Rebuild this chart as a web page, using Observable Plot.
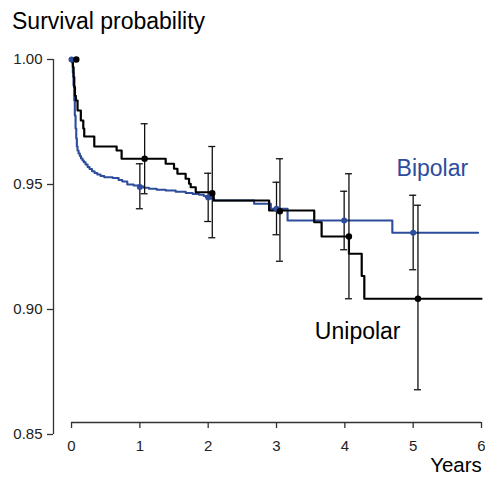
<!DOCTYPE html>
<html><head><meta charset="utf-8">
<script src="https://cdn.jsdelivr.net/npm/d3@7"></script>
<script src="https://cdn.jsdelivr.net/npm/@observablehq/plot@0.6"></script>
<style>
body{margin:0;background:#fff;}
#wrap{width:485px;height:478px;position:relative;font-family:"Liberation Sans",Arial,Helvetica,sans-serif;overflow:hidden;}
#title{position:absolute;left:12px;top:10px;font-size:23px;line-height:23px;color:#000;white-space:nowrap;}
#chart{position:absolute;left:0;top:40px;}
</style></head><body>
<div id="wrap"><div id="title">Survival probability</div><div id="chart"></div></div>
<script>
// Unipolar (black) Kaplan–Meier steps: time of drop (years), survival after drop
const uniTime = [0, 0.02, 0.03, 0.04, 0.05, 0.063, 0.088, 0.136, 0.172, 0.186, 0.333, 0.66, 0.733, 1.378, 1.50, 1.55, 1.67, 1.72, 1.744, 1.818, 2.08, 2.892, 3.552, 3.66, 4.06, 4.247, 4.285, 6.0];
const uniSurv = [1.0, 0.997, 0.993, 0.989, 0.9855, 0.9836, 0.9796, 0.9756, 0.9724, 0.9692, 0.9652, 0.9636, 0.9603, 0.9583, 0.9563, 0.9543, 0.9523, 0.9503, 0.9489, 0.9469, 0.9436, 0.9396, 0.9349, 0.9292, 0.9223, 0.9134, 0.9043, 0.9043];
// Bipolar (blue)
const biTime = [0, 0.007, 0.019, 0.029, 0.040, 0.048, 0.059, 0.069, 0.078, 0.088, 0.103, 0.122, 0.139, 0.161, 0.180, 0.205, 0.235, 0.264, 0.300, 0.337, 0.377, 0.425, 0.479, 0.601, 0.689, 0.743, 0.816, 0.909, 0.987, 1.055, 1.133, 1.246, 1.378, 1.524, 1.671, 1.774, 1.866, 1.935, 1.964, 2.038, 2.086, 2.672, 2.917, 3.162, 4.695, 5.95];
const biSurv = [1.0, 0.9988, 0.9948, 0.9896, 0.9836, 0.9776, 0.9724, 0.9684, 0.9652, 0.9636, 0.9624, 0.9614, 0.9604, 0.9596, 0.9589, 0.958, 0.957, 0.9562, 0.9553, 0.9546, 0.954, 0.9534, 0.9529, 0.9526, 0.9518, 0.9512, 0.95, 0.9496, 0.9492, 0.9487, 0.9483, 0.9479, 0.9476, 0.9471, 0.9466, 0.9462, 0.9459, 0.9454, 0.945, 0.9444, 0.9436, 0.9423, 0.9403, 0.9356, 0.9307, 0.9307];
// Yearly estimates with confidence intervals
const uniYearT = [0.07, 1.07, 2.06, 3.05, 4.06, 5.07];
const uniYearS = [1.0, 0.9603, 0.9465, 0.9393, 0.9292, 0.9043];
const uniLo = [null, 0.9463, 0.9287, 0.9193, 0.9043, 0.8679];
const uniHi = [null, 0.9743, 0.9652, 0.9603, 0.9543, 0.9417];
const biYearT = [0, 1.0, 2.0, 3.0, 3.99, 5.0];
const biYearS = [1.0, 0.9490, 0.9448, 0.9403, 0.9356, 0.9307];
const biLo = [null, 0.9403, 0.9352, 0.9299, 0.9239, 0.9159];
const biHi = [null, 0.9583, 0.9545, 0.9509, 0.9473, 0.9457];
const xTicks = [0, 1, 2, 3, 4, 5, 6];
const yTicks = [0.85, 0.90, 0.95, 1.00];

const BLUE = "#2d4c9c";
const uni = uniTime.map((t, i) => ({t, s: uniSurv[i]}));
const bi = biTime.map((t, i) => ({t, s: biSurv[i]}));
const pts = [
  ...uniYearT.map((t, i) => ({t, s: uniYearS[i], lo: uniLo[i], hi: uniHi[i], g: "Unipolar"})),
  ...biYearT.map((t, i) => ({t, s: biYearS[i], lo: biLo[i], hi: biHi[i], g: "Bipolar"}))
];
const bars = pts.filter(d => d.lo != null);

const xMin = -0.26385, yMin = 0.8548;
const chart = Plot.plot({
  width: 485, height: 438,
  marginLeft: 53, marginRight: 4, marginTop: 19, marginBottom: 56,
  x: {domain: [xMin, 6]},
  y: {domain: [yMin, 1.0]},
  style: {fontFamily: "'Liberation Sans', Arial, Helvetica, sans-serif", fontSize: "15px", color: "#222", background: "#fff", overflow: "visible"},
  marks: [
    Plot.ruleX([xMin], {y1: 0.85, y2: 1.0, stroke: "#333", strokeWidth: 1.3}),
    Plot.ruleY([yMin], {x1: 0, x2: 6, stroke: "#333", strokeWidth: 1.3}),
    Plot.axisY(yTicks, {tickSize: 6, tickPadding: 5, tickFormat: d3.format(".2f"), label: null, stroke: "#333", strokeWidth: 1.3}),
    Plot.axisX(xTicks, {tickSize: 6, tickPadding: 12, label: null, stroke: "#333", strokeWidth: 1.3}),
    Plot.line(bi, {x: "t", y: "s", curve: "step-after", stroke: BLUE, strokeWidth: 2.1}),
    Plot.line(uni, {x: "t", y: "s", curve: "step-after", stroke: "#000", strokeWidth: 2.2}),
    Plot.ruleX(bars, {x: "t", y1: "lo", y2: "hi", stroke: "#111", strokeWidth: 1.3}),
    Plot.ruleY(bars, {y: "lo", x1: "t", x2: "t", insetLeft: -3.5, insetRight: -3.5, stroke: "#111", strokeWidth: 1.3}),
    Plot.ruleY(bars, {y: "hi", x1: "t", x2: "t", insetLeft: -3.5, insetRight: -3.5, stroke: "#111", strokeWidth: 1.3}),
    Plot.dot(pts.filter(d => d.g === "Bipolar"), {x: "t", y: "s", r: 3, fill: BLUE}),
    Plot.dot(pts.filter(d => d.g === "Unipolar"), {x: "t", y: "s", r: 3.2, fill: "#000"}),
    Plot.text(["Bipolar"], {x: 5.805, y: 0.9536, text: d => d, textAnchor: "end", lineAnchor: "bottom", fontSize: 23, fill: BLUE}),
    Plot.text(["Unipolar"], {x: 4.815, y: 0.8884, text: d => d, textAnchor: "end", lineAnchor: "bottom", fontSize: 23, fill: "#000"}),
    Plot.text(["Years"], {x: 6.005, y: 0.835, text: d => d, textAnchor: "end", lineAnchor: "bottom", fontSize: 20.5, fill: "#000"})
  ]
});
document.getElementById("chart").appendChild(chart);
</script>
</body></html>
